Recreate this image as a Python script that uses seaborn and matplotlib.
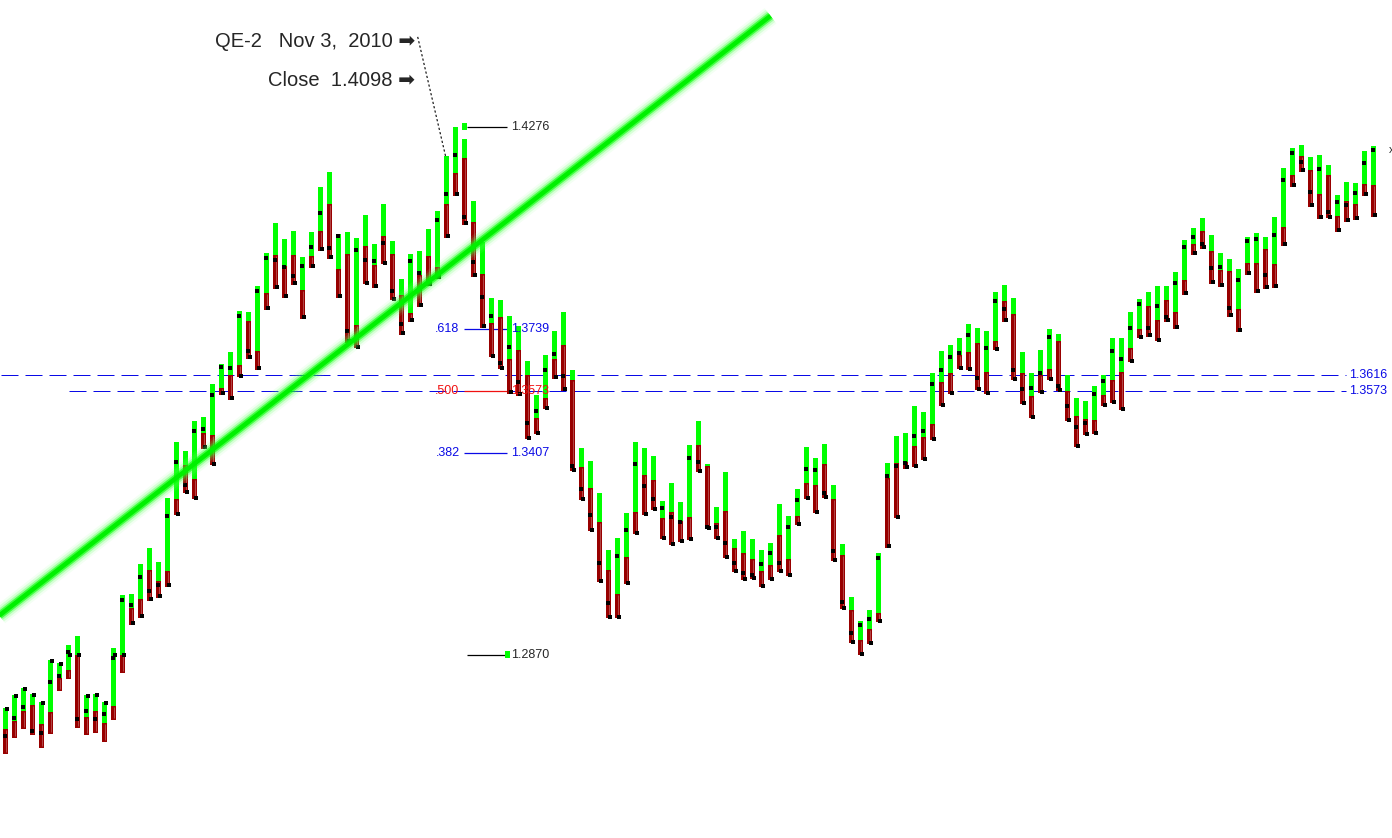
import numpy as np
import pandas as pd
import seaborn as sns
import matplotlib
matplotlib.use('Agg')
from matplotlib import pyplot as plt

sns.set_style('white')
plt.rcParams['font.family'] = ['Liberation Sans', 'DejaVu Sans']

# daily bars: top of green part, green/red split, bottom of red part
high = [1.2729, 1.2763, 1.2782, 1.2766, 1.2745, 1.2857, 1.2849, 1.2897, 1.2921, 1.2763,
        1.2766, 1.2745, 1.2889, 1.3030, 1.3032, 1.3112, 1.3155, 1.3118, 1.3288, 1.3437,
        1.3413, 1.3493, 1.3504, 1.3592, 1.3645, 1.3677, 1.3786, 1.3783, 1.3853, 1.3940,
        1.4020, 1.3978, 1.3999, 1.3930, 1.3996, 1.4116, 1.4156, 1.3991, 1.3996, 1.3980,
        1.4042, 1.3964, 1.4071, 1.3972, 1.3871, 1.3938, 1.3946, 1.4004, 1.4052, 1.4199,
        1.4276, 1.4244, 1.4079, 1.3970, 1.3821, 1.3815, 1.3773, 1.3746, 1.3653, 1.3562,
        1.3669, 1.3733, 1.3783, 1.3629, 1.3421, 1.3387, 1.3301, 1.3150, 1.3182, 1.3248,
        1.3437, 1.3421, 1.3400, 1.3280, 1.3328, 1.3277, 1.3429, 1.3493, 1.3379, 1.3264,
        1.3357, 1.3179, 1.3200, 1.3179, 1.3150, 1.3168, 1.3272, 1.3240, 1.3312, 1.3424,
        1.3395, 1.3432, 1.3323, 1.3166, 1.3024, 1.2960, 1.2990, 1.3142, 1.3381, 1.3453,
        1.3461, 1.3533, 1.3517, 1.3621, 1.3679, 1.3696, 1.3714, 1.3751, 1.3741, 1.3733,
        1.3837, 1.3855, 1.3821, 1.3677, 1.3621, 1.3682, 1.3738, 1.3725, 1.3616, 1.3554,
        1.3546, 1.3586, 1.3616, 1.3714, 1.3714, 1.3783, 1.3818, 1.3837, 1.3853, 1.3853,
        1.3890, 1.3975, 1.4007, 1.4034, 1.3988, 1.3940, 1.3925, 1.3898, 1.3983, 1.3994,
        1.3983, 1.4036, 1.4167, 1.4220, 1.4228, 1.4196, 1.4202, 1.4175, 1.4095, 1.4130,
        1.4127, 1.4212, 1.4225]

split = [1.2673, 1.2694, 1.2721, 1.2737, 1.2686, 1.2718, 1.2809, 1.2830, 1.2870, 1.2705,
         1.2721, 1.2689, 1.2734, 1.2870, 1.2995, 1.3019, 1.3096, 1.3067, 1.3094, 1.3285,
         1.3376, 1.3339, 1.3461, 1.3456, 1.3581, 1.3616, 1.3642, 1.3759, 1.3679, 1.3834,
         1.3935, 1.3906, 1.3935, 1.3842, 1.3932, 1.3999, 1.4071, 1.3898, 1.3938, 1.3749,
         1.3959, 1.3909, 1.3986, 1.3938, 1.3829, 1.3781, 1.3882, 1.3932, 1.3903, 1.4071,
         1.4154, 1.4194, 1.4023, 1.3885, 1.3754, 1.3770, 1.3658, 1.3682, 1.3616, 1.3501,
         1.3554, 1.3658, 1.3696, 1.3602, 1.3371, 1.3315, 1.3224, 1.3096, 1.3032, 1.3131,
         1.3251, 1.3349, 1.3336, 1.3235, 1.3251, 1.3227, 1.3237, 1.3429, 1.3373, 1.3221,
         1.3253, 1.3155, 1.3142, 1.3126, 1.3094, 1.3110, 1.3190, 1.3126, 1.3240, 1.3328,
         1.3323, 1.3379, 1.3285, 1.3136, 1.2990, 1.2910, 1.2939, 1.2982, 1.3341, 1.3381,
         1.3384, 1.3427, 1.3450, 1.3485, 1.3597, 1.3621, 1.3669, 1.3677, 1.3701, 1.3624,
         1.3706, 1.3813, 1.3778, 1.3621, 1.3560, 1.3616, 1.3632, 1.3706, 1.3573, 1.3506,
         1.3498, 1.3496, 1.3562, 1.3602, 1.3624, 1.3688, 1.3738, 1.3799, 1.3762, 1.3815,
         1.3783, 1.3869, 1.3964, 1.3999, 1.3946, 1.3895, 1.3893, 1.3791, 1.3914, 1.3914,
         1.3951, 1.3911, 1.4010, 1.4148, 1.4199, 1.4162, 1.4098, 1.4148, 1.4039, 1.4079,
         1.4071, 1.4124, 1.4122]

low = [1.2606, 1.2649, 1.2673, 1.2657, 1.2622, 1.2660, 1.2774, 1.2806, 1.2676, 1.2657,
       1.2662, 1.2638, 1.2697, 1.2822, 1.2950, 1.2969, 1.3014, 1.3022, 1.3051, 1.3243,
       1.3301, 1.3285, 1.3419, 1.3376, 1.3562, 1.3549, 1.3610, 1.3658, 1.3629, 1.3789,
       1.3845, 1.3821, 1.3855, 1.3765, 1.3901, 1.3946, 1.3924, 1.3821, 1.3701, 1.3688,
       1.3858, 1.3847, 1.3911, 1.3815, 1.3722, 1.3757, 1.3797, 1.3853, 1.3871, 1.3980,
       1.4092, 1.4015, 1.3877, 1.3741, 1.3664, 1.3632, 1.3565, 1.3560, 1.3445, 1.3458,
       1.3525, 1.3605, 1.3573, 1.3360, 1.3283, 1.3200, 1.3064, 1.2969, 1.2969, 1.3059,
       1.3192, 1.3243, 1.3256, 1.3179, 1.3163, 1.3171, 1.3176, 1.3357, 1.3205, 1.3179,
       1.3128, 1.3091, 1.3070, 1.3072, 1.3051, 1.3070, 1.3091, 1.3080, 1.3216, 1.3285,
       1.3248, 1.3288, 1.3120, 1.2992, 1.2902, 1.2870, 1.2899, 1.2958, 1.3155, 1.3235,
       1.3365, 1.3371, 1.3389, 1.3442, 1.3533, 1.3565, 1.3632, 1.3629, 1.3576, 1.3565,
       1.3682, 1.3757, 1.3602, 1.3538, 1.3501, 1.3568, 1.3602, 1.3573, 1.3493, 1.3424,
       1.3456, 1.3458, 1.3533, 1.3541, 1.3522, 1.3650, 1.3714, 1.3717, 1.3706, 1.3757,
       1.3738, 1.3829, 1.3935, 1.3951, 1.3858, 1.3850, 1.3770, 1.3730, 1.3882, 1.3834,
       1.3845, 1.3847, 1.3959, 1.4116, 1.4156, 1.4063, 1.4031, 1.4034, 1.3996, 1.4023,
       1.4028, 1.4092, 1.4036]

# black ticks: left one (close) and right one
close = [1.2654, 1.2702, 1.2732, 1.2668, 1.2662, 1.2798, 1.2814, 1.2878, 1.2700, 1.2721,
         1.2700, 1.2713, 1.2862, 1.3016, 1.3003, 1.3078, 1.3040, 1.3056, 1.3240, 1.3384,
         1.3323, 1.3466, 1.3472, 1.3562, 1.3637, 1.3634, 1.3773, 1.3679, 1.3839, 1.3927,
         1.3922, 1.3903, 1.3879, 1.3906, 1.3957, 1.4047, 1.3954, 1.3986, 1.3733, 1.3948,
         1.3922, 1.3919, 1.3967, 1.3839, 1.3751, 1.3919, 1.3887, 1.3861, 1.4028, 1.4098,
         1.4202, 1.4036, 1.3917, 1.3823, 1.3773, 1.3648, 1.3690, 1.3597, 1.3488, 1.3520,
         1.3629, 1.3671, 1.3613, 1.3373, 1.3312, 1.3243, 1.3115, 1.3008, 1.3134, 1.3203,
         1.3379, 1.3320, 1.3285, 1.3261, 1.3237, 1.3224, 1.3395, 1.3384, 1.3211, 1.3211,
         1.3168, 1.3115, 1.3088, 1.3083, 1.3112, 1.3142, 1.3115, 1.3211, 1.3283, 1.3365,
         1.3363, 1.3301, 1.3147, 1.3011, 1.2929, 1.2950, 1.2966, 1.3128, 1.3347, 1.3373,
         1.3381, 1.3453, 1.3466, 1.3592, 1.3629, 1.3664, 1.3674, 1.3722, 1.3608, 1.3688,
         1.3813, 1.3791, 1.3629, 1.3578, 1.3581, 1.3621, 1.3717, 1.3586, 1.3533, 1.3477,
         1.3488, 1.3565, 1.3600, 1.3679, 1.3658, 1.3741, 1.3805, 1.3741, 1.3799, 1.3770,
         1.3861, 1.3957, 1.3983, 1.3964, 1.3901, 1.3903, 1.3794, 1.3869, 1.3972, 1.3978,
         1.3882, 1.3988, 1.4135, 1.4207, 1.4183, 1.4103, 1.4164, 1.4050, 1.4076, 1.4068,
         1.4100, 1.4180, 1.4215]

right_tick = [1.2726, 1.2761, 1.2779, 1.2763, 1.2742, 1.2854, 1.2846, 1.2870, 1.2870, 1.2761,
              1.2763, 1.2742, 1.2870, 1.2870, 1.2955, 1.2974, 1.3019, 1.3027, 1.3056, 1.3245,
              1.3304, 1.3288, 1.3424, 1.3379, 1.3568, 1.3554, 1.3613, 1.3664, 1.3634, 1.3794,
              1.3850, 1.3826, 1.3861, 1.3770, 1.3906, 1.3951, 1.3930, 1.3826, 1.3706, 1.3690,
              1.3861, 1.3853, 1.3914, 1.3818, 1.3727, 1.3762, 1.3802, 1.3858, 1.3877, 1.3986,
              1.4098, 1.4020, 1.3882, 1.3746, 1.3666, 1.3634, 1.3570, 1.3565, 1.3448, 1.3461,
              1.3528, 1.3610, 1.3578, 1.3363, 1.3285, 1.3203, 1.3067, 1.2971, 1.2971, 1.3062,
              1.3195, 1.3245, 1.3259, 1.3182, 1.3166, 1.3174, 1.3179, 1.3360, 1.3208, 1.3182,
              1.3131, 1.3094, 1.3072, 1.3075, 1.3054, 1.3072, 1.3094, 1.3083, 1.3219, 1.3288,
              1.3251, 1.3291, 1.3123, 1.2995, 1.2905, 1.2873, 1.2902, 1.2960, 1.3160, 1.3237,
              1.3371, 1.3373, 1.3392, 1.3445, 1.3536, 1.3568, 1.3634, 1.3632, 1.3578, 1.3568,
              1.3685, 1.3762, 1.3605, 1.3541, 1.3504, 1.3570, 1.3605, 1.3576, 1.3496, 1.3427,
              1.3458, 1.3461, 1.3536, 1.3544, 1.3525, 1.3653, 1.3717, 1.3722, 1.3709, 1.3762,
              1.3743, 1.3834, 1.3940, 1.3957, 1.3863, 1.3855, 1.3775, 1.3735, 1.3887, 1.3839,
              1.3850, 1.3853, 1.3964, 1.4122, 1.4162, 1.4068, 1.4036, 1.4036, 1.4002, 1.4028,
              1.4034, 1.4098, 1.4042]

fib_high = 1.4276
fib_low = 1.2870
fib_ratios = [0.618, 0.500, 0.382]
fib_names = ['.618', '.500', '.382']
levels = [1.3616, 1.3573]
qe2_bar = 49
qe2_close = 1.4098
trend_x = [-0.7, 85.0]
trend_y = [1.2975, 1.4572]

BLUE = '#0a0ae6'
RED = '#f01010'
GREEN = '#00ff00'
DARK_RED = '#980000'

xpx = 1 / 9.0          # one screen pixel along x, in bar units
ypx = 0.0002663        # one screen pixel along y, in price units

fig = plt.figure(figsize=(13.92, 8.38), dpi=100)
ax = fig.add_axes([0, 0, 1, 1])
ax.set_xlim(-5.5 * xpx, 1386.5 * xpx)
ax.set_ylim(1.46142 - 838 * ypx, 1.46142)
ax.axis('off')

x = np.arange(len(high))
hi = np.array(high)
mid = np.array(split)
lo = np.array(low)
w = 5 * xpx

# bars
ax.bar(x, hi - mid, bottom=mid, width=w, color=GREEN, linewidth=0, zorder=3)
ax.bar(x, mid - lo, bottom=lo, width=w, color=DARK_RED, linewidth=0, zorder=3)
ax.vlines(x, lo + 2 * ypx, mid - ypx, colors='#c07070', lw=0.45, zorder=4)

ticks = pd.DataFrame({'x': np.concatenate([x - xpx, x + xpx]),
                      'y': close + right_tick})
sns.scatterplot(data=ticks, x='x', y='y', marker='s', s=12, color='black',
                linewidth=0, ax=ax, zorder=5, legend=False)

# horizontal dashed levels
starts = [-5 * xpx, 63 * xpx]
for lvl, x0 in zip(levels, starts):
    ax.plot([x0, 1340 * xpx], [lvl, lvl], color=BLUE, lw=0.72,
            ls=(0, (17, 7)), zorder=2)
    ax.text(1344 * xpx, lvl, '{:.4f}'.format(lvl), color=BLUE, fontsize=9,
            va='center', ha='left')

# fibonacci retracement
fx0 = 51
fx1 = fx0 + 42 * xpx
ax.hlines([fib_high, fib_low], fx0 + 2 * xpx, fx1, colors='black', lw=0.9, zorder=2)
ax.bar([fx0, fx1 + xpx], [7 * ypx, 7 * ypx],
       bottom=[fib_high - 3.5 * ypx, fib_low - 3.5 * ypx],
       width=w, color=GREEN, linewidth=0, zorder=3)
for val in [fib_high, fib_low]:
    ax.text(fx1 + 5 * xpx, val, '{:.4f}'.format(val), fontsize=9,
            va='center', ha='left', zorder=6)
for r, name in zip(fib_ratios, fib_names):
    lvl = fib_low + r * (fib_high - fib_low)
    c = RED if name == '.500' else BLUE
    ax.hlines(lvl, fx0 - xpx, fx1, colors=c, lw=0.9, zorder=2)
    ax.text(fx0 - 5 * xpx, lvl, name, color=c, fontsize=9, va='center', ha='right')
    ax.text(fx1 + 5 * xpx, lvl, '{:.4f}'.format(lvl), color=c, fontsize=9,
            va='center', ha='left', zorder=6)

# glowing trend line
trend = pd.DataFrame({'x': trend_x, 'y': trend_y})
glow = [(14.0, 0.10, '#8cff8c'), (11.0, 0.18, '#5cff5c'), (8.0, 0.30, '#2bff2b'),
        (5.5, 0.6, '#00ff00'), (3.2, 1.0, '#00f000')]
for lw, a, col in glow:
    sns.lineplot(data=trend, x='x', y='y', color=col, lw=lw, alpha=a,
                 ax=ax, zorder=7, solid_capstyle='butt', legend=False)

# QE-2 note
ax.text(0.2981, 1 - 47 / 838, 'QE-2   Nov 3,  2010 \u27a1', transform=ax.transAxes,
        ha='right', va='baseline', fontsize=14.5)
ax.text(0.2981, 1 - 86 / 838, 'Close  {:.4f} \u27a1'.format(qe2_close),
        transform=ax.transAxes, ha='right', va='baseline', fontsize=14.5)
ax.plot([45.8, qe2_bar - xpx], [1.4516, high[qe2_bar]], color='black', lw=0.8,
        ls=(0, (2, 2)), zorder=6)

ax.text(len(high) + 1, 1.4215, 'x', fontsize=8, ha='center', va='center')

ax.set_xlabel('')
ax.set_ylabel('')
fig.savefig('out.png', dpi=100)
plt.close(fig)
